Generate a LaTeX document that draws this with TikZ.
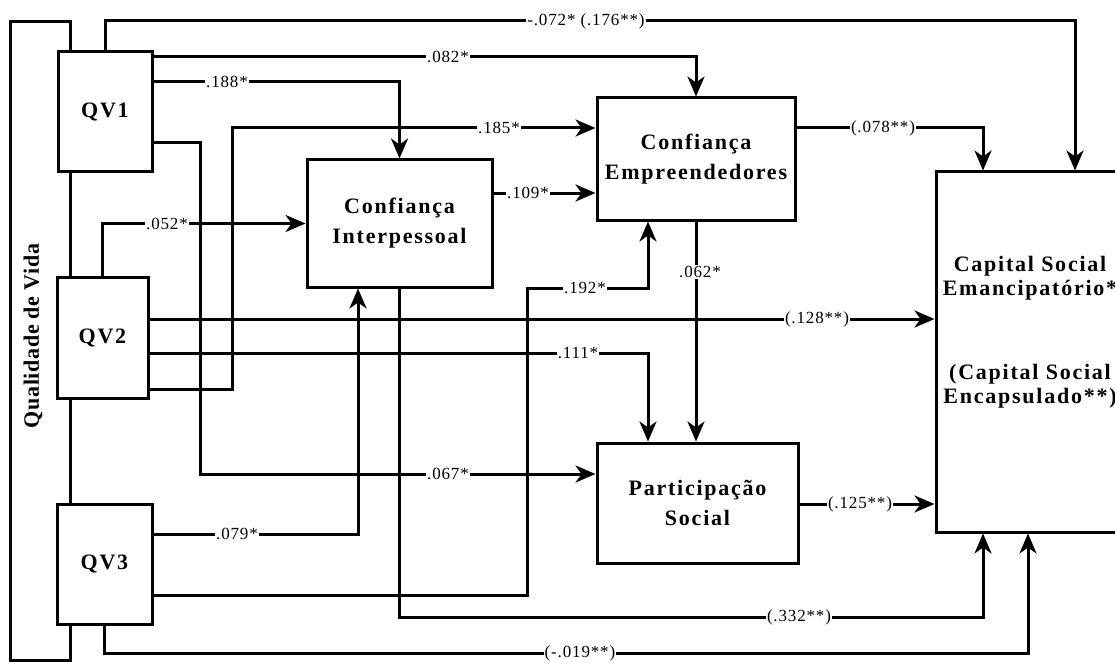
\documentclass[tikz,border=0pt]{standalone}
\usepackage{fontspec}
\setmainfont{Liberation Serif}
\newfontfamily\boxfont[LetterSpace=8]{Liberation Serif}
\newfontfamily\lblfont[LetterSpace=5]{Liberation Serif}
\newfontfamily\qvfont[LetterSpace=3]{Liberation Serif}
\usetikzlibrary{arrows.meta}
\begin{document}
\begin{tikzpicture}[x=1pt,y=-1pt,
  conn/.style={draw=black, line width=3pt, line join=miter},
  arr/.style={conn, -{Stealth[length=20pt,width=17pt,inset=6pt]}},
  box/.style={draw, line width=3pt, fill=white, inner sep=0pt, align=center,
    font=\boxfont\bfseries\fontsize{22}{30}\selectfont},
  cstext/.style={align=center, inner sep=0pt, font=\boxfont\bfseries\fontsize{22}{24}\selectfont},
  lbl/.style={fill=white, inner xsep=1pt, inner ysep=1pt, font=\lblfont\fontsize{17}{19}\selectfont},
]
\useasboundingbox (0,0) rectangle (1115,663);
\clip (0,0) rectangle (1115,663);

% boxes
\node[box, minimum width=94pt, minimum height=120pt] (QV1) at (105,112) {QV1};
\node[box, minimum width=91pt, minimum height=121pt] (QV2) at (102.5,338) {QV2};
\node[box, minimum width=95pt, minimum height=120pt] (QV3) at (104.5,564) {QV3};
\node[box, minimum width=185pt, minimum height=127pt] (CI) at (399.5,223.5) {Confiança\\Interpessoal};
\node[box, minimum width=198pt, minimum height=122pt] (CE) at (696,159) {Confiança\\Empreendedores};
\node[box, minimum width=201pt, minimum height=120pt] (PS) at (697.5,503) {Participação\\Social};
\node[box, minimum width=188pt, minimum height=360pt] (CS) at (1030,352) {};
\node[cstext] (CSt) at (1030,332) {Capital Social\\Emancipatório*\\[60pt](Capital Social\\Encapsulado**)};

% Qualidade de Vida frame
\coordinate (fx) at (70,0);
\node[rotate=90, inner sep=0pt, font=\qvfont\bfseries\fontsize{22}{24}\selectfont] (QVL) at (33,336) {Qualidade de Vida};
\draw[conn] (QV1.north -| fx) -- (70,22) -- (10,22) -- (10,660) -- (70,660) -- (QV3.south -| fx);
\draw[conn] (QV1.south -| fx) -- (QV2.north -| fx);
\draw[conn] (QV2.south -| fx) -- (QV3.north -| fx);

% connectors
\draw[arr] (QV1.north) |- (1075,21) -- (CS.north -| 1075,0);
\draw[arr] (QV1.east |- 0,57) -| (CE.north);
\draw[arr] (QV1.east |- 0,82) -| (CI.north);
\draw[arr] (QV1.east |- 0,143) -| (200,474) -- (PS.west |- 0,474);
\draw[arr] (QV2.north) |- (CI.west);
\draw[arr] (QV2.east |- 0,389) -| (232,128) -- (CE.west |- 0,128);
\draw[arr] (QV2.east |- 0,353) -| (PS.north -| 648,0);
\draw[arr] (QV2.east |- 0,319) -- (CS.west |- 0,319);
\draw[arr] (QV3.east |- 0,534) -| (CI.south -| 358,0);
\draw[arr] (QV3.east |- 0,595) -| (527,288) -| (CE.south -| 648,0);
\draw[arr] (QV3.south) |- (1028,653) -- (CS.south -| 1028,0);
\draw[arr] (CI.east |- 0,193) -- (CE.west |- 0,193);
\draw[arr] (CI.south) |- (983,617) -- (CS.south -| 983,0);
\draw[arr] (CE.south) -- (PS.north -| CE.south);
\draw[arr] (CE.east |- 0,128) -| (CS.north -| 983,0);
\draw[arr] (PS.east |- 0,504) -- (CS.west |- 0,504);

% labels
\node[lbl] (L01) at (586,21) {-.072* (.176**)};
\node[lbl] (L02) at (448,57) {.082*};
\node[lbl] (L03) at (227,82) {.188*};
\node[lbl] (L04) at (448,474) {.067*};
\node[lbl] (L05) at (167,224) {.052*};
\node[lbl] (L06) at (499,128) {.185*};
\node[lbl] (L07) at (578,353) {.111*};
\node[lbl] (L08) at (817,319) {(.128**)};
\node[lbl] (L09) at (237,534) {.079*};
\node[lbl] (L10) at (585,288) {.192*};
\node[lbl] (L11) at (580,653) {(-.019**)};
\node[lbl] (L12) at (528,193) {.109*};
\node[lbl] (L13) at (799,617) {(.332**)};
\node[lbl] (L14) at (700,272) {.062*};
\node[lbl] (L15) at (883,128) {(.078**)};
\node[lbl] (L16) at (860,504) {(.125**)};
\end{tikzpicture}
\end{document}
